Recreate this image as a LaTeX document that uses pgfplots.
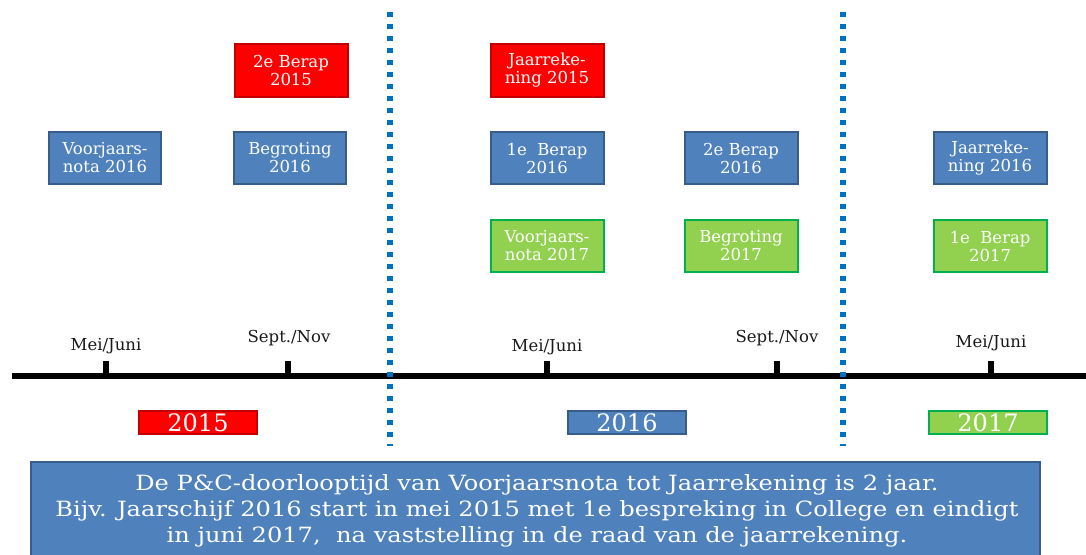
\documentclass[border=0pt]{standalone}
\usepackage{pgfplots}
\pgfplotsset{compat=1.18}
\usepackage{fontspec}
\setmainfont{DejaVu Serif}
\newfontfamily\botfont[FakeStretch=1.15]{DejaVu Serif}
\definecolor{bfill}{RGB}{79,129,189}
\definecolor{bdraw}{RGB}{56,93,138}
\definecolor{rfill}{RGB}{255,0,0}
\definecolor{rdraw}{RGB}{192,0,0}
\definecolor{gfill}{RGB}{146,208,80}
\definecolor{gdraw}{RGB}{0,176,80}
\definecolor{dotblue}{RGB}{0,112,192}
\definecolor{lbl}{RGB}{25,25,25}
\begin{document}
\begin{tikzpicture}
\begin{axis}[width=1086pt,height=554pt,scale only axis,
  xmin=0,xmax=1086,ymin=0,ymax=554,y dir=reverse,hide axis,clip=true,
  bbox/.style={line width=2.5pt,line join=miter},
  lab/.style={draw=none,mark=none,nodes near coords,point meta=explicit symbolic,
    nodes near coords style={anchor=center,align=center,inner sep=0pt}}]
% invisible frame to fix the picture size
\addplot[draw=none,mark=none] coordinates {(0,0) (1086,554)};
% timeline
\addplot[black,line width=6pt,mark=none] coordinates {(12,376) (1086,376)};
\addplot[black,line width=6pt,mark=none] coordinates {(106,361) (106,376)};
\addplot[black,line width=6pt,mark=none] coordinates {(288,361) (288,376)};
\addplot[black,line width=6pt,mark=none] coordinates {(547,361) (547,376)};
\addplot[black,line width=6pt,mark=none] coordinates {(777,361) (777,376)};
\addplot[black,line width=6pt,mark=none] coordinates {(991,361) (991,376)};
% dotted separators
\addplot[dotblue,line width=6.5pt,dash pattern=on 5pt off 7pt,mark=none] coordinates {(390,12) (390,446)};
\addplot[dotblue,line width=6.5pt,dash pattern=on 5pt off 7pt,mark=none] coordinates {(843,12) (843,446)};
% blue boxes
\addplot[bbox,fill=bfill,draw=bdraw] coordinates {(49,132) (161,132) (161,184) (49,184)} -- cycle;
\addplot[bbox,fill=bfill,draw=bdraw] coordinates {(234,132) (346,132) (346,184) (234,184)} -- cycle;
\addplot[bbox,fill=bfill,draw=bdraw] coordinates {(491,132) (604,132) (604,184) (491,184)} -- cycle;
\addplot[bbox,fill=bfill,draw=bdraw] coordinates {(685,132) (798,132) (798,184) (685,184)} -- cycle;
\addplot[bbox,fill=bfill,draw=bdraw] coordinates {(934,132) (1047,132) (1047,184) (934,184)} -- cycle;
% red boxes
\addplot[bbox,fill=rfill,draw=rdraw] coordinates {(235,44) (348,44) (348,97) (235,97)} -- cycle;
\addplot[bbox,fill=rfill,draw=rdraw] coordinates {(491,44) (604,44) (604,97) (491,97)} -- cycle;
% green boxes
\addplot[bbox,fill=gfill,draw=gdraw] coordinates {(491,220) (604,220) (604,272) (491,272)} -- cycle;
\addplot[bbox,fill=gfill,draw=gdraw] coordinates {(685,220) (798,220) (798,272) (685,272)} -- cycle;
\addplot[bbox,fill=gfill,draw=gdraw] coordinates {(934,220) (1047,220) (1047,272) (934,272)} -- cycle;
% year boxes
\addplot[line width=2pt,fill=rfill,draw=rdraw] coordinates {(139,411) (257,411) (257,434) (139,434)} -- cycle;
\addplot[line width=2pt,fill=bfill,draw=bdraw] coordinates {(568,411) (686,411) (686,434) (568,434)} -- cycle;
\addplot[line width=2pt,fill=gfill,draw=gdraw] coordinates {(929,411) (1047,411) (1047,434) (929,434)} -- cycle;
% bottom box
\addplot[line width=2pt,fill=bfill,draw=bdraw] coordinates {(31,462) (1040,462) (1040,570) (31,570)} -- cycle;
% box labels
\addplot[lab,nodes near coords style={text=white,font=\fontsize{16.5}{18}\selectfont}] coordinates {
(105,158) [{Voorjaars-\\nota 2016}]
(290,158) [{Begroting\\2016}]
(547,158) [{1e\ \ Berap\\2016}]
(741,158) [{2e Berap\\2016}]
(990,158) [{Jaarreke-\\ning 2016}]
(291,70) [{2e Berap\\2015}]
(547,70) [{Jaarreke-\\ning 2015}]
(547,246) [{Voorjaars-\\nota 2017}]
(741,246) [{Begroting\\2017}]
(990,246) [{1e\ \ Berap\\2017}]
};
% tick labels
\addplot[lab,nodes near coords style={text=lbl,font=\fontsize{16.5}{18}\selectfont}] coordinates {
(106,346) [Mei/Juni]
(289,338) [Sept./Nov]
(547,347) [Mei/Juni]
(777,338) [Sept./Nov]
(991,343) [Mei/Juni]
};
% year labels
\addplot[lab,nodes near coords style={text=white,font=\fontsize{24}{24}\selectfont}] coordinates {
(198,423) [2015]
(627,423) [2016]
(988,423) [2017]
};
% bottom text
\addplot[lab,nodes near coords style={text=white,font=\botfont\fontsize{21}{26}\selectfont}] coordinates {
(537,511) [{De P\&C-doorlooptijd van Voorjaarsnota tot Jaarrekening is 2 jaar.\\Bijv. Jaarschijf 2016 start in mei 2015 met 1e bespreking in College en eindigt\\in juni 2017,\ \ na vaststelling in de raad van de jaarrekening.}]
};
\end{axis}
\end{tikzpicture}
\end{document}
